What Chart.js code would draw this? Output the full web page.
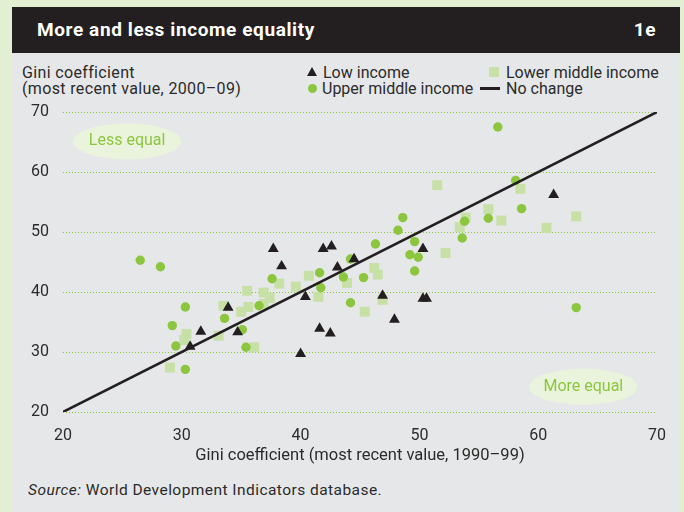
<!DOCTYPE html>
<html>
<head>
<meta charset="utf-8">
<script src="https://cdn.jsdelivr.net/npm/chart.js@4.4.1/dist/chart.umd.min.js"></script>
<style>
  html, body { margin: 0; padding: 0; }
  body {
    width: 684px; height: 512px; overflow: hidden; position: relative;
    background: #e3efd3;
    font-family: Roboto, "Noto Sans", sans-serif;
    color: #2b2b2b;
  }
  #panel { position: absolute; left: 12px; top: 7px; width: 668px; height: 505px; background: #e6e7e8; }
  #header { position: absolute; left: 12px; top: 7px; width: 668px; height: 46px; background: #231f20; }
  #title { position: absolute; left: 37px; top: 18px; color: #fff; font-weight: bold; font-size: 19px; letter-spacing: 0.6px; }
  #tag { position: absolute; right: 28px; top: 18px; color: #fff; font-weight: bold; font-size: 19px; letter-spacing: 0.6px; }
  .txt { position: absolute; font-size: 16px; line-height: 16px; white-space: nowrap; }
  .wide { letter-spacing: 0.35px; }
  .tri { position: absolute; width: 0; height: 0; border-left: 5px solid transparent; border-right: 5px solid transparent; border-bottom: 9px solid #231f20; }
  .dot { position: absolute; width: 9px; height: 9px; border-radius: 50%; background: #8cc63f; }
  .sq { position: absolute; width: 10px; height: 10px; background: #c6e0a6; }
  .ln { position: absolute; width: 20px; height: 3px; background: #231f20; }
  #source { position: absolute; left: 28px; top: 481px; font-size: 15.5px; letter-spacing: 0.45px; }
  #chart { position: absolute; left: 0; top: 0; }
</style>
</head>
<body>
<div id="panel"></div>
<div id="header"></div>
<div id="title">More and less income equality</div>
<div id="tag">1e</div>

<div class="txt wide" style="left:22px; top:65px;">Gini coefficient</div>
<div class="txt wide" style="left:22px; top:81px;">(most recent value, 2000–09)</div>

<div class="tri" style="left:307px; top:67px;"></div>
<div class="txt" style="left:323px; top:65px;">Low income</div>
<div class="sq" style="left:489px; top:67px;"></div>
<div class="txt" style="left:506px; top:65px;">Lower middle income</div>
<div class="dot" style="left:308px; top:84px;"></div>
<div class="txt" style="left:322px; top:81px;">Upper middle income</div>
<div class="ln" style="left:480px; top:87px;"></div>
<div class="txt" style="left:506px; top:81px;">No change</div>

<div id="source"><i>Source:</i> World Development Indicators database.</div>

<canvas id="chart" width="684" height="512"></canvas>

<script>
// ── Data (Gini 1990–99 on x, 2000–09 on y) ───────────────────
const lowX = [30.7, 31.6, 33.9, 34.7, 37.7, 38.4, 40.4, 40.0, 41.6, 41.9,
              42.5, 42.6, 43.1, 44.5, 46.9, 47.9, 50.3, 50.3, 50.6, 61.3];
const lowY = [30.9, 33.4, 37.4, 33.3, 47.2, 44.3, 39.2, 29.7, 33.9, 47.2,
              33.1, 47.6, 44.1, 45.5, 39.4, 35.4, 47.2, 38.9, 38.9, 56.2];

const upperX = [26.5, 28.2, 30.3, 29.2, 29.5, 30.3, 33.6, 35.1, 35.4, 36.5,
                37.6, 41.6, 41.7, 43.6, 44.2, 44.2, 45.3, 46.3, 48.2, 48.6,
                49.6, 49.2, 49.9, 49.6, 53.6, 53.8, 55.8, 56.6, 58.1, 58.6, 63.2];
const upperY = [45.3, 44.2, 37.5, 34.4, 31.0, 27.1, 35.6, 33.7, 30.8, 37.7,
                42.2, 43.2, 40.7, 42.5, 45.5, 38.2, 42.4, 48.0, 50.3, 52.4,
                48.4, 46.2, 45.8, 43.5, 49.0, 51.8, 52.3, 67.5, 58.6, 53.9, 37.4];

const lowerX = [29.0, 30.4, 30.2, 33.1, 33.5, 35.0, 35.6, 35.5, 36.1, 36.9,
                37.4, 36.9, 38.2, 39.6, 40.7, 41.5, 43.9, 45.4, 46.2, 46.5,
                46.9, 51.5, 52.2, 53.4, 53.9, 55.8, 56.9, 58.5, 60.7, 63.2];
const lowerY = [27.4, 33.0, 32.0, 32.7, 37.7, 36.7, 37.5, 40.2, 30.8, 39.9,
                39.0, 38.0, 41.4, 40.9, 42.7, 39.2, 41.5, 36.7, 44.0, 42.9,
                38.7, 57.8, 46.5, 50.8, 52.4, 53.8, 51.9, 57.2, 50.7, 52.6];

const noChangeX = [20, 70];
const noChangeY = [20, 70];

const axisTicks = [20, 30, 40, 50, 60, 70];

// Callout labels: [text, x, y] in data units
const callouts = [
  ['Less equal', 25.4, 65.1],
  ['More equal', 63.8, 24.2],
];

// ── Colours ───────────────────────────────────────────────────
const BLACK = '#231f20';
const GREEN = '#8cc63f';
const PALE  = '#c6e0a6';
const TEXT  = '#2b2b2b';

const toPoints = (xs, ys) => xs.map((x, i) => ({ x, y: ys[i] }));

// Dotted green gridlines, the pale ellipses and their captions
const backdropPlugin = {
  id: 'backdrop',
  beforeDatasetsDraw(chart) {
    const { ctx, chartArea, scales: { x, y } } = chart;
    ctx.save();

    // dotted gridlines at each y tick
    ctx.strokeStyle = GREEN;
    ctx.lineWidth = 1;
    ctx.setLineDash([1, 2]);
    y.ticks.forEach(t => {
      const py = Math.round(y.getPixelForValue(t.value)) + 0.5;
      ctx.beginPath();
      ctx.moveTo(chartArea.left, py);
      ctx.lineTo(chartArea.right, py);
      ctx.stroke();
    });
    ctx.setLineDash([]);

    callouts.forEach(([text, vx, vy]) => {
      const cx = x.getPixelForValue(vx);
      const cy = y.getPixelForValue(vy);
      ctx.fillStyle = '#eaf4dc';
      ctx.beginPath();
      ctx.ellipse(cx, cy, 54, 18, 0, 0, Math.PI * 2);
      ctx.fill();
      ctx.fillStyle = GREEN;
      ctx.font = '16px Roboto';
      ctx.textAlign = 'center';
      ctx.textBaseline = 'middle';
      ctx.fillText(text, cx, cy);
    });
    ctx.restore();
  },
};

new Chart(document.getElementById('chart'), {
  type: 'scatter',
  data: {
    datasets: [
      {
        label: 'Low income',
        data: toPoints(lowX, lowY),
        pointStyle: 'triangle',
        pointRadius: 6.3,
        backgroundColor: BLACK,
        borderWidth: 0,
        order: 0,
      },
      {
        label: 'No change',
        type: 'line',
        data: toPoints(noChangeX, noChangeY),
        borderColor: BLACK,
        borderWidth: 2.5,
        pointRadius: 0,
        fill: false,
        order: 1,
      },
      {
        label: 'Upper middle income',
        data: toPoints(upperX, upperY),
        pointStyle: 'circle',
        pointRadius: 4.7,
        backgroundColor: GREEN,
        borderWidth: 0,
        order: 2,
      },
      {
        label: 'Lower middle income',
        data: toPoints(lowerX, lowerY),
        pointStyle: 'rect',
        pointRadius: 7,
        backgroundColor: PALE,
        borderWidth: 0,
        order: 3,
      },
    ],
  },
  options: {
    responsive: false,
    animation: false,
    layout: { padding: { left: 0, top: 112, right: 27, bottom: 44 } },
    plugins: {
      legend: { display: false },
      tooltip: { enabled: false },
    },
    scales: {
      x: {
        type: 'linear',
        min: 20, max: 70,
        afterBuildTicks: (s) => { s.ticks = axisTicks.map(v => ({ value: v })); },
        afterFit: (s) => { s.height = 56; },
        grid: { display: false },
        border: { display: false },
        ticks: { color: TEXT, font: { family: 'Roboto', size: 16 }, padding: 6 },
        title: {
          display: true,
          text: 'Gini coefficient (most recent value, 1990–99)',
          color: TEXT,
          font: { family: 'Roboto', size: 16.5 },
          padding: { top: 2, bottom: 2 },
        },
      },
      y: {
        type: 'linear',
        min: 20, max: 70,
        afterBuildTicks: (s) => { s.ticks = axisTicks.map(v => ({ value: v })); },
        afterFit: (s) => { s.width = 63; },
        grid: { display: false },
        border: { display: false },
        ticks: { color: TEXT, font: { family: 'Roboto', size: 16 }, padding: 6 },
      },
    },
  },
  plugins: [backdropPlugin],
});
</script>
</body>
</html>
